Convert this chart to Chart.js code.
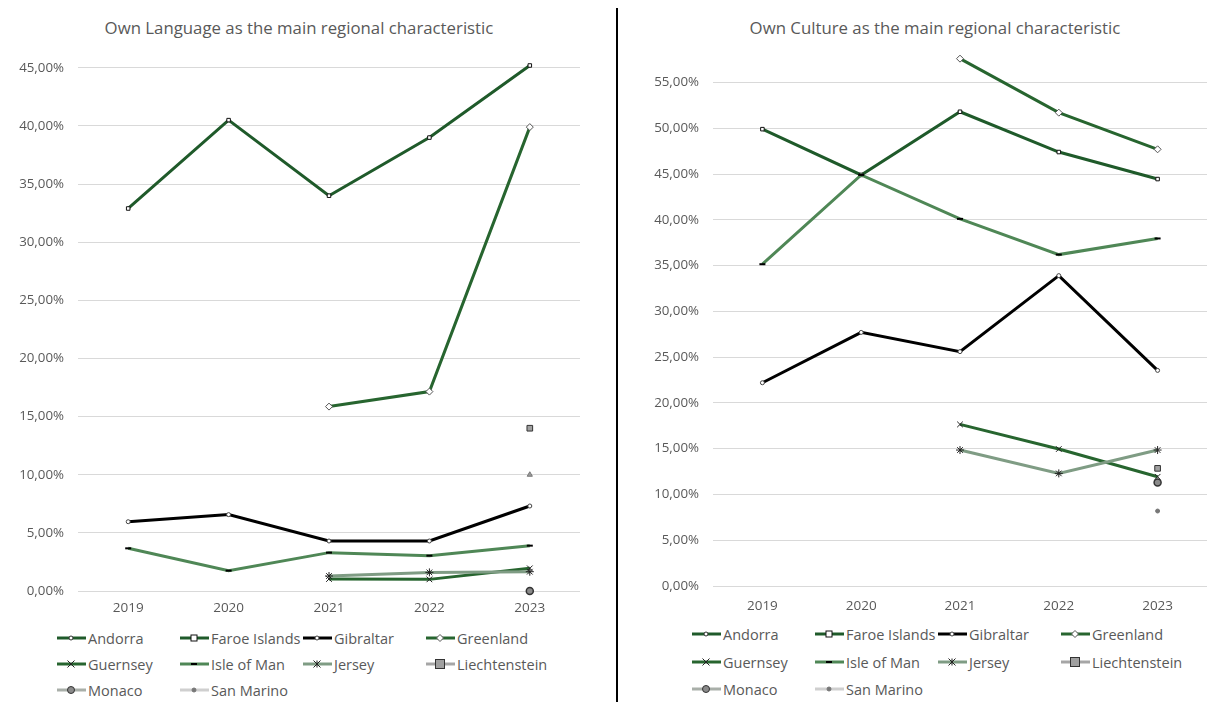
<!DOCTYPE html>
<html>
<head>
<meta charset="utf-8">
<script src="https://cdn.jsdelivr.net/npm/chart.js@4.4.1/dist/chart.umd.min.js"></script>
<style>
  html, body { margin: 0; padding: 0; background: #fff; overflow: hidden; width: 1209px; height: 702px; }
  body { position: relative; font-family: "Open Sans", "Noto Sans", sans-serif; }
  .title { position: absolute; top: 16px; font-size: 16.8px; color: #595959; white-space: nowrap; transform: translateX(-50%); }
  .wrap { position: absolute; }
  .legend { position: absolute; font-size: 14.5px; color: #595959; }
  .item { position: absolute; display: flex; align-items: center; white-space: nowrap; height: 18px; }
  .item svg { display: block; margin-right: 1px; }
  #divider { position: absolute; left: 616px; top: 8px; width: 2px; height: 694px; background: #000; }
</style>
</head>
<body>
<div class="title" style="left:299px">Own Language as the main regional characteristic</div>
<div class="title" style="left:935px">Own Culture as the main regional characteristic</div>
<div class="wrap" style="left:0;top:0;width:610px;height:625px"><canvas id="c1"></canvas></div>
<div class="wrap" style="left:620px;top:0;width:593px;height:620px"><canvas id="c2"></canvas></div>
<div id="divider"></div>
<div id="leg1" class="legend"></div>
<div id="leg2" class="legend"></div>
<script>
// ---- data ----
const years = ['2019', '2020', '2021', '2022', '2023'];
const countries = ['Andorra', 'Faroe Islands', 'Gibraltar', 'Greenland', 'Guernsey',
                   'Isle of Man', 'Jersey', 'Liechtenstein', 'Monaco', 'San Marino'];
const yTicksLanguage = [0, 5, 10, 15, 20, 25, 30, 35, 40, 45];
const yTicksCulture = [0, 5, 10, 15, 20, 25, 30, 35, 40, 45, 50, 55];

// Own Language (%), rows follow `countries`
const languageAndorra      = [null, null, null, null, null];
const languageFaroe        = [32.9, 40.5, 34.0, 39.0, 45.2];
const languageGibraltar    = [5.96, 6.57, 4.30, 4.30, 7.31];
const languageGreenland    = [null, null, 15.86, 17.15, 39.9];
const languageGuernsey     = [null, null, 1.03, 1.0, 1.95];
const languageIsleOfMan    = [3.67, 1.75, 3.30, 3.04, 3.90];
const languageJersey       = [null, null, 1.29, 1.6, 1.66];
const languageLiechtenstein= [null, null, null, null, 14.0];
const languageMonaco       = [null, null, null, null, 0.0];
const languageSanMarino    = [null, null, null, null, 10.0];

// Own Culture (%)
const cultureAndorra       = [null, null, null, null, null];
const cultureFaroe         = [49.9, 44.9, 51.8, 47.4, 44.45];
const cultureGibraltar     = [22.2, 27.7, 25.6, 33.9, 23.55];
const cultureGreenland     = [null, null, 57.6, 51.7, 47.7];
const cultureGuernsey      = [null, null, 17.65, 14.96, 11.93];
const cultureIsleOfMan     = [35.15, 44.9, 40.1, 36.2, 37.96];
const cultureJersey        = [null, null, 14.85, 12.3, 14.85];
const cultureLiechtenstein = [null, null, null, null, 12.85];
const cultureMonaco        = [null, null, null, null, 11.3];
const cultureSanMarino     = [null, null, null, null, 8.19];

const languageRows = [languageAndorra, languageFaroe, languageGibraltar, languageGreenland, languageGuernsey,
  languageIsleOfMan, languageJersey, languageLiechtenstein, languageMonaco, languageSanMarino];
const cultureRows = [cultureAndorra, cultureFaroe, cultureGibraltar, cultureGreenland, cultureGuernsey,
  cultureIsleOfMan, cultureJersey, cultureLiechtenstein, cultureMonaco, cultureSanMarino];

// ---- styles ----
const styles = [
  { color: '#1f5a2a', ps: 'circle', r: 2, bg: '#fff', bc: '#333', bw: 1 },        // Andorra
  { color: '#1f5a2a', ps: 'rect', r: 2.5, bg: '#fff', bc: '#111', bw: 1 },        // Faroe
  { color: '#000000', ps: 'circle', r: 2, bg: '#fff', bc: '#444', bw: 1 },        // Gibraltar
  { color: '#27652f', ps: 'rectRot', r: 3.5, bg: '#fff', bc: '#555', bw: 1 },     // Greenland
  { color: '#27652f', ps: 'crossRot', r: 4, bg: '#fff', bc: '#222', bw: 1 },      // Guernsey
  { color: '#4f8756', ps: 'line', r: 3, bg: '#000', bc: '#000', bw: 2 },          // Isle of Man
  { color: '#7f9c84', ps: 'star', r: 4, bg: '#fff', bc: '#222', bw: 1 },          // Jersey
  { color: '#a6a6a6', ps: 'rect', r: 4, bg: '#a0a0a0', bc: '#333', bw: 1 },       // Liechtenstein
  { color: '#a9afa9', ps: 'circle', r: 3.5, bg: '#8a8a8a', bc: '#333', bw: 1.5 }, // Monaco
  { color: '#cfcfcf', ps: 'circle', r: 2, bg: '#777', bc: '#777', bw: 1 }         // San Marino
];

const fontFamily = '"Open Sans", "Noto Sans", sans-serif';
const fmt = v => (v).toFixed(2).replace('.', ',') + '%';

function makeChart(id, rows, tickVals, maxV, yWidth, xHeight, xPad, padTop, padRight, sanMarinoStyle) {
  const datasets = rows.map((row, i) => {
    const s = styles[i];
    const alt = (i === 9 && sanMarinoStyle);
    return {
      label: countries[i],
      data: row,
      borderColor: s.color,
      borderWidth: 3,
      pointStyle: alt ? sanMarinoStyle : s.ps,
      pointRadius: alt ? 3 : s.r,
      pointBackgroundColor: alt ? '#9a9a9a' : s.bg,
      pointBorderColor: alt ? '#777' : s.bc,
      pointBorderWidth: s.bw,
      tension: 0,
      spanGaps: false,
      clip: false,
      order: 20 - i
    };
  });
  return new Chart(document.getElementById(id), {
    type: 'line',
    data: { labels: years, datasets },
    options: {
      responsive: true,
      maintainAspectRatio: false,
      animation: false,
      events: [],
      layout: { padding: { top: padTop, right: padRight, left: 0, bottom: 0 } },
      plugins: { legend: { display: false }, title: { display: false }, tooltip: { enabled: false } },
      scales: {
        x: {
          offset: true,
          grid: { display: false, drawTicks: false },
          border: { display: false },
          ticks: { color: '#595959', font: { family: fontFamily, size: 13.5 }, padding: xPad, maxRotation: 0 },
          afterFit: s => { s.height = xHeight; }
        },
        y: {
          min: 0, max: maxV,
          grid: { color: '#d9d9d9', lineWidth: 1, drawTicks: false },
          border: { display: false },
          ticks: { color: '#595959', font: { family: fontFamily, size: 13.3 }, padding: 14, callback: v => fmt(v) },
          afterBuildTicks: s => { s.ticks = tickVals.map(v => ({ value: v })); },
          afterFit: s => { s.width = yWidth; }
        }
      }
    }
  });
}

makeChart('c1', languageRows, yTicksLanguage, 45.5, 78, 34, 9, 62, 30, 'triangle');
makeChart('c2', cultureRows, yTicksCulture, 58, 93, 34, 12, 55, 0, null);

// ---- HTML legends ----
function markerSvg(i) {
  const s = styles[i];
  let m = '';
  const cx = 14, cy = 6;
  if (s.ps === 'rect') {
    const h = s.r + 0.5;
    m = `<rect x="${cx - h}" y="${cy - h}" width="${2 * h}" height="${2 * h}" fill="${s.bg}" stroke="${s.bc}" stroke-width="1"/>`;
  } else if (s.ps === 'circle') {
    m = `<circle cx="${cx}" cy="${cy}" r="${s.r}" fill="${s.bg}" stroke="${s.bc}" stroke-width="1"/>`;
  } else if (s.ps === 'rectRot') {
    const r = s.r;
    m = `<polygon points="${cx},${cy - r} ${cx + r},${cy} ${cx},${cy + r} ${cx - r},${cy}" fill="${s.bg}" stroke="${s.bc}" stroke-width="1"/>`;
  } else if (s.ps === 'crossRot') {
    const r = 3.5;
    m = `<path d="M${cx - r} ${cy - r} L${cx + r} ${cy + r} M${cx - r} ${cy + r} L${cx + r} ${cy - r}" stroke="${s.bc}" stroke-width="1"/>`;
  } else if (s.ps === 'line') {
    m = `<path d="M${cx - 3} ${cy} L${cx + 3} ${cy}" stroke="#000" stroke-width="2"/>`;
  } else if (s.ps === 'star') {
    const r = 3.5;
    m = `<path d="M${cx - r} ${cy - r} L${cx + r} ${cy + r} M${cx - r} ${cy + r} L${cx + r} ${cy - r} M${cx} ${cy - r} L${cx} ${cy + r}" stroke="${s.bc}" stroke-width="1"/>`;
  }
  return `<svg width="30" height="12" viewBox="0 0 30 12"><line x1="0" y1="6" x2="29" y2="6" stroke="${s.color}" stroke-width="3"/>${m}</svg>`;
}

function buildLegend(id, x0, ys, colStep) {
  const el = document.getElementById(id);
  countries.forEach((name, i) => {
    const row = Math.floor(i / 4), col = i % 4;
    const d = document.createElement('div');
    d.className = 'item';
    d.style.left = (x0 + col * colStep) + 'px';
    d.style.top = (ys[row] - 9) + 'px';
    d.innerHTML = markerSvg(i) + '<span>' + name + '</span>';
    el.appendChild(d);
  });
}
buildLegend('leg1', 57, [638, 664, 690], 123);
buildLegend('leg2', 692, [634, 662, 689], 123);
</script>
</body>
</html>
